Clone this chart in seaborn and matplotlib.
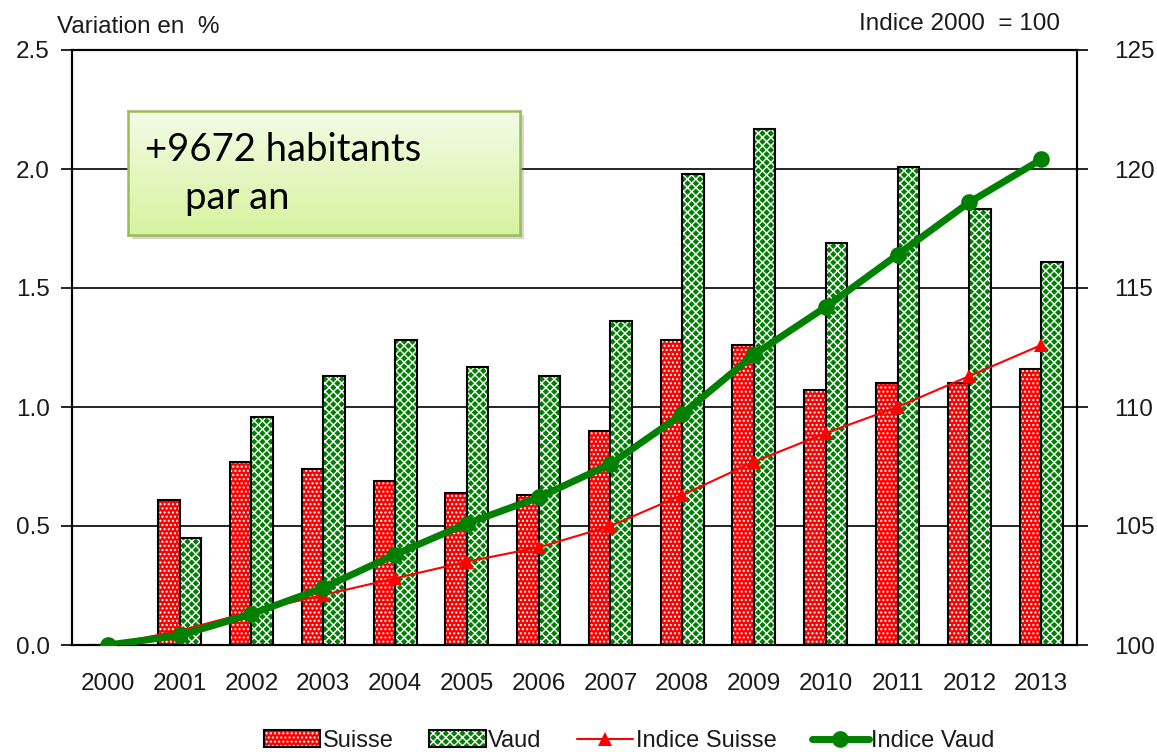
import numpy as np
import pandas as pd
import matplotlib
matplotlib.use("Agg")
import matplotlib.pyplot as plt
import matplotlib.patches as mpatches
from matplotlib.lines import Line2D
from matplotlib.colors import LinearSegmentedColormap
import seaborn as sns

# ---- data ----
years = [str(y) for y in range(2000, 2014)]
var_suisse = [0.0, 0.61, 0.77, 0.74, 0.69, 0.64, 0.63, 0.90, 1.28, 1.26, 1.07, 1.10, 1.10, 1.16]
var_vaud = [0.0, 0.45, 0.96, 1.13, 1.28, 1.17, 1.13, 1.36, 1.98, 2.17, 1.69, 2.01, 1.83, 1.61]
ind_suisse = [100.0, 100.6, 101.4, 102.1, 102.8, 103.5, 104.1, 105.0, 106.3, 107.7, 108.9, 110.0, 111.3, 112.6]
ind_vaud = [100.0, 100.4, 101.3, 102.4, 103.8, 105.1, 106.2, 107.6, 109.7, 112.2, 114.2, 116.4, 118.6, 120.4]
series = ["Suisse", "Vaud"]
yticks_left = [0.0, 0.5, 1.0, 1.5, 2.0, 2.5]
yticks_right = [100, 105, 110, 115, 120, 125]

RED = "#ff0000"
GREEN = "#008000"
TXT = "#1a1a1a"

sns.set_theme(style="white")
plt.rcParams["font.family"] = ["Liberation Sans", "DejaVu Sans"]
plt.rcParams["hatch.linewidth"] = 1.0

W, H = 1157, 752
fig = plt.figure(figsize=(W / 100, H / 100), dpi=100)
ax = fig.add_axes([72 / W, 1 - 645 / H, (1077 - 72) / W, (645 - 50) / H])

df = pd.DataFrame({
    "year": years * 2,
    "value": var_suisse + var_vaud,
    "serie": [series[0]] * len(years) + [series[1]] * len(years),
})
pal = {"Suisse": RED, "Vaud": GREEN}

# filled, hatched bars
sns.barplot(data=df, x="year", y="value", hue="serie", hue_order=series, palette=pal,
            width=0.6, saturation=1, edgecolor="white", linewidth=0, legend=False, ax=ax)
hatches = ["....", "xxxx"]
for cont, h in zip(ax.containers, hatches):
    for p in cont:
        p.set_hatch(h)
        p.set_edgecolor("white")
        p.set_linewidth(0)
# outlines
n_before = len(ax.containers)
sns.barplot(data=df, x="year", y="value", hue="serie", hue_order=series, palette=pal,
            width=0.6, saturation=1, legend=False, ax=ax)
for cont in ax.containers[n_before:]:
    for p in cont:
        p.set_facecolor("none")
        p.set_edgecolor("black")
        p.set_linewidth(1.5)

ax.set_ylim(0, 2.5)
ax.set_yticks(yticks_left)
ax.set_yticklabels([f"{v:.1f}" for v in yticks_left])
ax.set_xlim(-0.5, len(years) - 0.5)
ax.set_xlabel("")
ax.set_ylabel("")
ax.yaxis.grid(True, color="black", linewidth=1.2)
ax.set_axisbelow(True)
ax.set_xticks(np.arange(len(years)) + 0.5, minor=True)
ax.tick_params(axis="x", which="major", length=0, pad=20, labelsize=17.5, labelcolor=TXT)
ax.tick_params(axis="x", which="minor", direction="inout", length=18, width=1.2, color="black")
ax.tick_params(axis="y", direction="out", length=8, width=1.2, color="black", pad=8,
               labelsize=17.5, labelcolor=TXT, left=True)
for s in ax.spines.values():
    s.set_color("black")
    s.set_linewidth(1.5)

# index lines
ax2 = ax.twinx()
pos = np.arange(len(years))
sns.lineplot(x=pos, y=ind_suisse, ax=ax2, color=RED, linewidth=1.5, marker="^",
             markersize=10, markeredgewidth=0, sort=False, zorder=3)
sns.lineplot(x=pos, y=ind_vaud, ax=ax2, color=GREEN, linewidth=5, marker="o",
             markersize=12, markeredgewidth=0, sort=False, zorder=4)
ax2.set_ylim(100, 125)
ax2.set_yticks(yticks_right)
ax2.set_xlim(-0.5, len(years) - 0.5)
ax2.set_ylabel("")
ax2.tick_params(axis="y", direction="out", length=8, width=1.2, color="black", pad=19,
                labelsize=17.5, labelcolor=TXT, right=True)
ax2.grid(False)
for s in ax2.spines.values():
    s.set_color("black")
    s.set_linewidth(1.5)

# axis titles
fig.text(57 / W, 1 - 27 / H, "Variation en  %", fontsize=17.5, color=TXT, ha="left", va="center")
fig.text(1060 / W, 1 - 24 / H, "Indice 2000  = 100", fontsize=17.5, color=TXT, ha="right", va="center")

# annotation box
bx, by, bw, bh = 128 / W, 1 - 235 / H, 392 / W, 124 / H
shadow = mpatches.Rectangle((bx + 4 / W, by - 4 / H), bw, bh, transform=fig.transFigure,
                            facecolor="#888888", alpha=0.35, edgecolor="none", zorder=4)
fig.patches.append(shadow)
box_ax = fig.add_axes([bx, by, bw, bh])
box_ax.set_zorder(5)
grad = np.linspace(0, 1, 256).reshape(-1, 1)
cmap = LinearSegmentedColormap.from_list("g", ["#f3fbe6", "#d6f49e"])
box_ax.imshow(grad, aspect="auto", cmap=cmap, extent=[0, 1, 0, 1], origin="upper")
box_ax.set_xticks([])
box_ax.set_yticks([])
for s in box_ax.spines.values():
    s.set_color("#9bbb59")
    s.set_linewidth(1.8)
box_ax.text((145 - 128) / 392, (235 - 150) / 124, "+9672 habitants", fontsize=27.5,
            family=["Lato", "DejaVu Sans"], color="black", ha="left", va="center")
box_ax.text((185 - 128) / 392, (235 - 198) / 124, "par an", fontsize=27.5,
            family=["Lato", "DejaVu Sans"], color="black", ha="left", va="center")

# legend
h_s = (mpatches.Patch(facecolor=RED, edgecolor="white", hatch="....", linewidth=0),
       mpatches.Patch(facecolor="none", edgecolor="black", linewidth=1.5))
h_v = (mpatches.Patch(facecolor=GREEN, edgecolor="white", hatch="xxxx", linewidth=0),
       mpatches.Patch(facecolor="none", edgecolor="black", linewidth=1.5))
h_is = Line2D([], [], color=RED, linewidth=1.5, marker="^", markersize=10, markeredgewidth=0)
h_iv = Line2D([], [], color=GREEN, linewidth=5, marker="o", markersize=12, markeredgewidth=0)
fig.legend([h_s, h_v, h_is, h_iv], ["Suisse", "Vaud", "Indice Suisse", "Indice Vaud"],
           loc="center", bbox_to_anchor=(629 / W, 1 - 741 / H), ncol=4, frameon=False,
           fontsize=17, handlelength=2.4, handleheight=0.7, handletextpad=0.1,
           columnspacing=1.5, labelcolor=TXT)

fig.savefig("out.png", dpi=100)
